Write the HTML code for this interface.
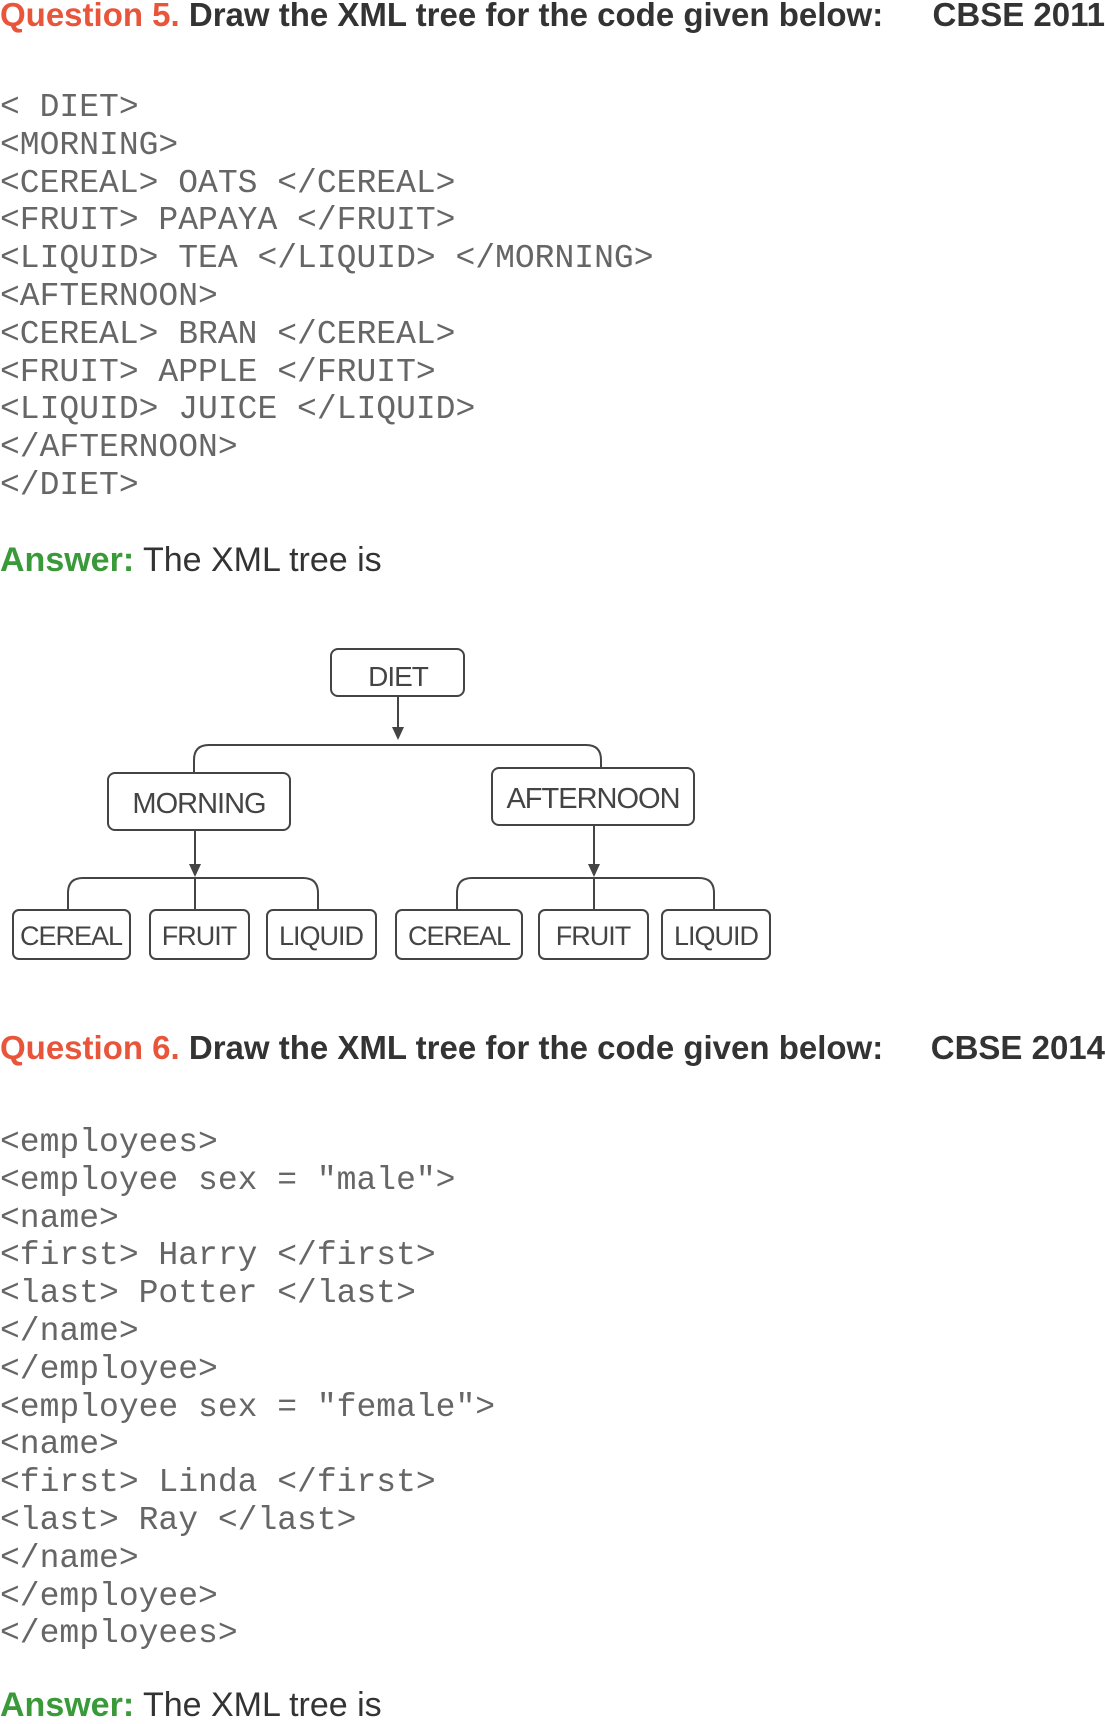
<!DOCTYPE html>
<html><head><meta charset="utf-8"><style>
body{margin:0;background:#fff;width:1105px;height:1720px;position:relative;overflow:hidden}
.h{position:absolute;left:0;width:1105px;font:bold 33px/36px "Liberation Sans",sans-serif;color:#333;white-space:pre}
.h .q{color:#e8553a}
.h .r{position:absolute;right:0;top:0}
.code{position:absolute;left:0;font:33px/37.8px "Liberation Mono",monospace;color:#666;white-space:pre}
.ans{position:absolute;left:0;font:34px/38px "Liberation Sans",sans-serif;color:#333}
.ans b{color:#3a9a3a}
</style></head><body>
<div class="h" style="top:-3px"><span class="q">Question 5.</span> Draw the XML tree for the code given below:<span class="r">CBSE 2011</span></div>
<div class="code" style="top:89px">&lt; DIET&gt;
&lt;MORNING&gt;
&lt;CEREAL&gt; OATS &lt;/CEREAL&gt;
&lt;FRUIT&gt; PAPAYA &lt;/FRUIT&gt;
&lt;LIQUID&gt; TEA &lt;/LIQUID&gt; &lt;/MORNING&gt;
&lt;AFTERNOON&gt;
&lt;CEREAL&gt; BRAN &lt;/CEREAL&gt;
&lt;FRUIT&gt; APPLE &lt;/FRUIT&gt;
&lt;LIQUID&gt; JUICE &lt;/LIQUID&gt;
&lt;/AFTERNOON&gt;
&lt;/DIET&gt;</div>
<div class="ans" style="top:541px"><b>Answer:</b> The XML tree is</div>
<svg style="position:absolute;left:0;top:0" width="1105" height="1000">
<g fill="none" stroke="#444" stroke-width="2">
<rect x="331" y="649" width="133" height="47" rx="7"/>
<rect x="108" y="773" width="182" height="57" rx="7"/>
<rect x="492" y="768" width="202" height="57" rx="7"/>
<rect x="13" y="910" width="117" height="49" rx="6"/>
<rect x="150" y="910" width="99" height="49" rx="6"/>
<rect x="267" y="910" width="109" height="49" rx="6"/>
<rect x="396" y="910" width="126" height="49" rx="6"/>
<rect x="539" y="910" width="109" height="49" rx="6"/>
<rect x="662" y="910" width="108" height="49" rx="6"/>
<path d="M398 696V737M194 773V760Q194 745 209 745H586Q601 745 601 760V768"/>
<path d="M195 830V872M68 910V893Q68 878 83 878H303Q318 878 318 893V910M195 878V910"/>
<path d="M594 825V872M457 910V893Q457 878 472 878H699Q714 878 714 893V910M594 878V910"/>
</g>
<g fill="#444"><path d="M392 727L404 727L398 740Z"/><path d="M189 864L201 864L195 877Z"/><path d="M588 864L600 864L594 877Z"/></g>
<g font-family="Liberation Sans,sans-serif" fill="#444" text-anchor="middle" letter-spacing="-1">
<text x="398" y="686" font-size="28">DIET</text>
<text x="199" y="813" font-size="29">MORNING</text>
<text x="593" y="808" font-size="29">AFTERNOON</text>
<text x="71" y="945" font-size="27">CEREAL</text>
<text x="199" y="945" font-size="27">FRUIT</text>
<text x="321" y="945" font-size="27">LIQUID</text>
<text x="459" y="945" font-size="27">CEREAL</text>
<text x="593" y="945" font-size="27">FRUIT</text>
<text x="716" y="945" font-size="27">LIQUID</text>
</g>
</svg>
<div class="h" style="top:1030px"><span class="q">Question 6.</span> Draw the XML tree for the code given below:<span class="r">CBSE 2014</span></div>
<div class="code" style="top:1124px">&lt;employees&gt;
&lt;employee sex = "male"&gt;
&lt;name&gt;
&lt;first&gt; Harry &lt;/first&gt;
&lt;last&gt; Potter &lt;/last&gt;
&lt;/name&gt;
&lt;/employee&gt;
&lt;employee sex = "female"&gt;
&lt;name&gt;
&lt;first&gt; Linda &lt;/first&gt;
&lt;last&gt; Ray &lt;/last&gt;
&lt;/name&gt;
&lt;/employee&gt;
&lt;/employees&gt;</div>
<div class="ans" style="top:1686px"><b>Answer:</b> The XML tree is</div>
</body></html>
